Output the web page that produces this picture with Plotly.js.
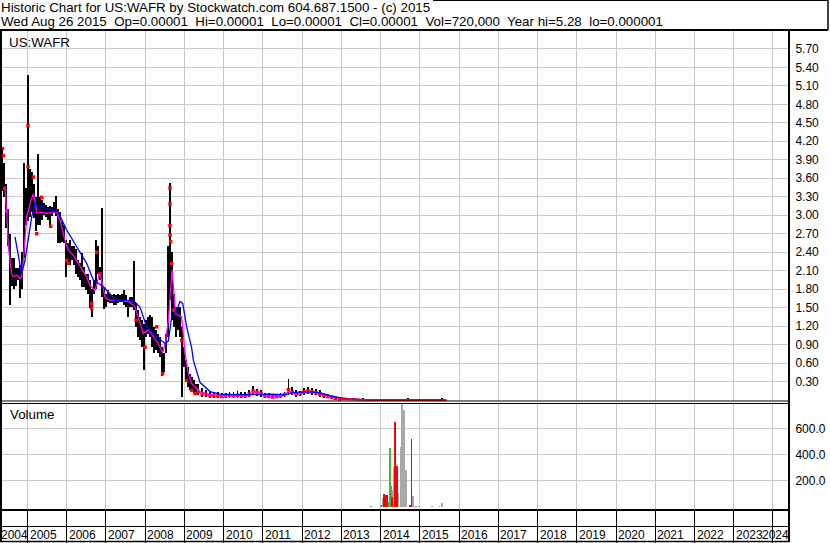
<!DOCTYPE html>
<html><head><meta charset="utf-8">
<script src="https://cdn.plot.ly/plotly-3.0.1.min.js"></script>
<style>html,body{margin:0;padding:0;background:#fff;overflow:hidden}#chart{width:830px;height:543px}</style>
</head><body><div id="chart"></div>
<script>
// ---- price bars (decimal year, high, low) ----
const barT = [2004.359,2004.410,2004.461,2004.512,2004.563,2004.614,2004.665,2004.716,2004.767,2004.818,
2004.869,2004.920,2004.971,2005.022,2005.073,2005.124,2005.175,2005.225,2005.276,2005.327,
2005.378,2005.429,2005.480,2005.531,2005.582,2005.633,2005.684,2005.735,2005.786,2005.837,
2005.888,2005.939,2005.990,2006.041,2006.092,2006.143,2006.194,2006.245,2006.296,2006.347,
2006.398,2006.449,2006.500,2006.551,2006.602,2006.653,2006.704,2006.755,2006.806,2006.857,
2006.908,2006.959,2007.010,2007.060,2007.111,2007.162,2007.213,2007.264,2007.315,2007.366,
2007.417,2007.468,2007.519,2007.570,2007.621,2007.672,2007.723,2007.774,2007.825,2007.876,
2007.927,2007.978,2008.029,2008.080,2008.131,2008.182,2008.233,2008.284,2008.335,2008.386,
2008.437,2008.488,2008.539,2008.590,2008.641,2008.692,2008.743,2008.794,2008.845,2008.895,
2008.946,2008.997,2009.048,2009.099,2009.150,2009.201,2009.252,2009.303,2009.354,
2009.45,2009.55,2009.65,2009.75,2009.85,2009.95,2010.05,2010.15,2010.25,2010.35,
2010.45,2010.55,2010.65,2010.75,2010.85,2010.95,2011.05,2011.15,2011.25,2011.35,
2011.45,2011.55,2011.65,2011.75,2011.85,2011.95,2012.05,2012.15,2012.25,2012.35,
2012.45,2012.55,2012.65,2012.75,2012.85,2012.95,
2013.10,2013.30,2013.55,2013.80,2014.00,2014.30,2014.70,2015.10,2015.56];
const barHi = [4.10,3.85,3.50,3.10,2.70,2.30,2.30,2.15,2.15,2.20,
2.40,3.85,3.45,5.28,3.75,3.70,3.50,3.30,3.99,3.30,
3.25,3.20,3.17,3.13,3.15,3.13,3.22,3.32,3.10,3.05,
2.90,2.85,2.60,2.55,2.60,2.50,2.50,2.45,2.27,2.22,
2.38,2.16,2.05,2.05,1.95,1.80,1.95,2.60,2.50,2.16,
3.11,1.84,1.73,1.78,1.73,1.70,1.73,1.70,1.73,1.70,
1.73,1.79,1.70,1.62,1.67,1.67,2.25,1.57,1.46,1.35,
1.30,1.24,1.30,1.35,1.38,1.35,1.19,1.14,1.08,1.03,
0.86,0.76,1.08,2.50,3.53,2.40,1.73,1.51,1.51,1.51,
1.19,0.86,0.65,0.54,0.43,0.38,0.32,0.27,0.27,
0.19,0.17,0.15,0.14,0.13,0.12,0.12,0.14,0.13,0.15,
0.14,0.13,0.16,0.23,0.18,0.16,0.12,0.11,0.10,0.10,
0.12,0.14,0.34,0.22,0.16,0.15,0.20,0.22,0.20,0.18,
0.16,0.12,0.10,0.08,0.06,0.05,
0.04,0.03,0.04,0.02,0.02,0.015,0.03,0.012,0.03];
const barLo = [3.40,3.30,2.80,2.50,1.55,1.85,1.80,1.85,1.95,1.65,
1.80,2.30,2.85,2.90,2.97,3.05,2.95,2.75,2.85,2.85,
2.92,3.00,2.97,2.92,2.82,2.98,3.03,2.98,2.55,2.55,
2.56,2.55,2.00,2.20,2.20,2.27,2.20,2.05,2.00,1.95,
1.84,1.84,1.78,1.73,1.50,1.35,1.73,1.80,2.05,1.95,
1.68,1.48,1.51,1.59,1.57,1.57,1.54,1.54,1.57,1.59,
1.59,1.54,1.51,1.35,1.51,1.51,1.46,1.19,1.03,0.97,
0.86,0.49,1.03,1.08,1.03,0.86,0.76,0.81,0.76,0.70,
0.40,0.46,0.76,1.03,1.62,1.30,1.19,1.03,1.14,1.03,
0.05,0.54,0.32,0.22,0.16,0.14,0.11,0.11,0.08,
0.05,0.05,0.04,0.04,0.03,0.03,0.03,0.04,0.04,0.04,
0.04,0.03,0.05,0.08,0.07,0.05,0.04,0.03,0.03,0.03,
0.04,0.05,0.09,0.08,0.06,0.07,0.09,0.10,0.09,0.08,
0.06,0.04,0.03,0.02,0.01,0.01,
0.005,0.003,0.002,0.002,0.001,0.001,0.001,0.001,0.001];

// ---- red close marks ----
const redDotT = [2004.359,2004.384,2004.418,2004.469,2005.013,2005.013,2005.149,2005.234,2005.361,2005.591,
2005.998,2006.041,2006.636,2006.636,2006.763,2006.848,2007.765,2007.995,2008.292,2008.445,
2008.632,2008.632,2008.632,2008.632,2008.649,2008.675,2008.717,2008.929,2009.056,2009.184,2009.269,2009.354,
2009.45,2009.55,2009.65,2009.75,2009.85,2009.95,2010.05,2010.15,2010.25,2010.35,
2010.45,2010.55,2010.65,2010.75,2010.85,2010.95,2011.05,2011.15,2011.25,2011.35,
2011.45,2011.55,2011.65,2011.75,2011.85,2011.95,2012.05,2012.15,2012.25,2012.35,
2012.45,2012.55,2012.65,2012.75,2012.85,2012.95];
const redDotV = [4.08,3.97,3.44,3.07,4.45,3.79,3.62,2.70,3.29,2.82,
2.27,2.22,1.57,1.49,2.40,2.05,1.30,0.86,1.19,0.43,
3.44,3.18,2.83,2.68,2.57,2.22,1.46,0.97,0.32,0.16,0.11,0.14,
0.10,0.09,0.08,0.07,0.07,0.06,0.07,0.08,0.07,0.08,
0.07,0.07,0.10,0.15,0.13,0.11,0.07,0.06,0.05,0.06,
0.07,0.09,0.17,0.13,0.11,0.11,0.14,0.15,0.14,0.12,
0.10,0.08,0.06,0.05,0.03,0.02];

// ---- final close line ----
const tailT = [2012.95,2013.20,2013.50,2013.80,2014.10,2014.40,2014.70,2015.00,2015.30,2015.69];
const tailClose = [0.02,0.01,0.006,0.004,0.004,0.003,0.003,0.002,0.002,0.001];

// ---- short moving average (magenta) ----
const shortMaT = [2004.427,2004.469,2004.512,2004.554,2004.596,2004.639,2004.724,2004.809,2004.851,2004.894,
2004.936,2004.979,2005.064,2005.149,2005.191,2005.234,2005.319,2005.488,2005.658,2005.743,
2005.828,2005.956,2006.041,2006.168,2006.296,2006.423,2006.508,2006.593,2006.720,2006.831,
2006.890,2006.975,2007.103,2007.357,2007.612,2007.740,2007.867,2007.952,2008.080,2008.207,
2008.335,2008.445,2008.522,2008.590,2008.649,2008.683,2008.734,2008.768,2008.844,2008.929,
2009.014,2009.099,2009.184,2009.311,2009.396,2009.651,2009.906,2010.671,2010.773,2010.926,
2011.053,2011.436,2011.665,2011.818,2012.073,2012.328,2012.583,2012.838,2013.093,2013.475];
const shortMaV = [3.43,3.08,2.49,2.22,2.05,2.00,2.03,1.97,2.00,2.27,
2.70,2.97,3.19,3.35,3.24,3.03,3.05,3.03,3.05,3.05,
2.92,2.59,2.43,2.35,2.22,2.08,2.00,1.86,1.78,2.05,
1.95,1.67,1.62,1.62,1.59,1.51,1.24,1.08,1.14,1.03,
0.92,0.76,0.97,1.30,1.95,2.12,1.73,1.40,1.38,1.35,
0.76,0.43,0.27,0.19,0.14,0.09,0.07,0.07,0.14,0.12,
0.07,0.06,0.14,0.10,0.12,0.13,0.08,0.04,0.02,0.01];

// ---- long moving average (blue) ----
const longMaT = [2004.681,2004.766,2004.851,2004.936,2005.021,2005.106,2005.191,2005.276,2005.488,2005.786,
2005.998,2006.253,2006.508,2006.678,2006.933,2007.103,2007.230,2007.697,2007.867,2008.037,
2008.292,2008.505,2008.590,2008.675,2008.802,2008.887,2008.955,2009.014,2009.057,2009.184,
2009.226,2009.396,2009.651,2009.906,2010.161,2010.671,2010.926,2011.180,2011.563,2011.741,
2011.945,2012.328,2012.506,2012.710,2012.965,2013.220,2013.602,2013.984,2014.749,2015.641];
const longMaV = [2.65,2.32,2.05,2.27,2.65,2.97,3.19,3.16,3.11,3.05,
2.76,2.49,2.22,1.95,1.84,1.73,1.62,1.62,1.51,1.19,
1.03,0.92,0.96,1.35,1.46,1.60,1.57,1.35,1.19,0.85,
0.65,0.29,0.14,0.10,0.09,0.09,0.10,0.10,0.09,0.12,
0.13,0.13,0.11,0.07,0.04,0.02,0.01,0.01,0.01,0.01];

// ---- volume (thousands) ----
const volGrayT = [2014.068,2014.297,2014.341,2014.451,2014.502,2014.552,2014.603,2014.646,2014.833,2014.978,2015.317,2015.496,2015.572];
const volGray  = [66,130,308,110,461,785,740,282,86,5,5,5,33];
const volGreenT = [2013.747,2014.002,2014.180,2014.231,2014.264,2014.901];
const volGreen  = [8,15,41,453,160,8];
const volRedT = [2014.094,2014.130,2014.155,2014.282,2014.366,2014.409,2014.756,2014.791];
const volRed  = [99,95,92,79,651,315,15,519];

// ---- axis ticks ----
const yearTicks  = [2004,2005,2006,2007,2008,2009,2010,2011,2012,2013,2014,2015,2016,2017,2018,2019,2020,2021,2022,2023,2024];
const yearLabels = ['2004','2005','2006','2007','2008','2009','2010','2011','2012','2013','2014','2015','2016','2017','2018','2019','2020','2021','2022','2023','2024'];
const priceTicks = [0.30,0.60,0.90,1.20,1.50,1.80,2.10,2.40,2.70,3.00,3.30,3.60,3.90,4.20,4.50,4.80,5.10,5.40,5.70];
const priceTickText = ['0.30','0.60','0.90','1.20','1.50','1.80','2.10','2.40','2.70','3.00','3.30','3.60','3.90','4.20','4.50','4.80','5.10','5.40','5.70'];
const volTicks = [200,400,600];
const volTickText = ['200.0','400.0','600.0'];

// ---- geometry helpers ----
const W = 830, H = 543, PL = 2, PR = 789, PT = 31, PB = 510;
const px = x => (x - PL) / (PR - PL);
const py = y => (PB - y) / (PB - PT);
const xRange = [2004.350, 2024.408];
const FONT = 'Arial, "Liberation Sans", sans-serif';

const barSpan = barHi.map((h, i) => h - barLo[i]);

const traces = [
  {type:'bar', x:barT, y:barSpan, base:barLo, width:0.046, marker:{color:'#000000', line:{width:0}}, xaxis:'x', yaxis:'y', hoverinfo:'skip'},
  {type:'scatter', mode:'markers', x:redDotT, y:redDotV, marker:{color:'#ff0000', size:3.5, symbol:'square', line:{width:0}}, xaxis:'x', yaxis:'y', hoverinfo:'skip'},
  {type:'scatter', mode:'lines', x:shortMaT, y:shortMaV, line:{color:'#ff00ff', width:1.3}, xaxis:'x', yaxis:'y', hoverinfo:'skip'},
  {type:'scatter', mode:'lines', x:longMaT, y:longMaV, line:{color:'#0000ff', width:1.3}, xaxis:'x', yaxis:'y', hoverinfo:'skip'},
  {type:'scatter', mode:'lines', x:tailT, y:tailClose, line:{color:'#ff0000', width:2}, xaxis:'x', yaxis:'y', hoverinfo:'skip'},
  {type:'bar', x:volGrayT, y:volGray, width:0.042, marker:{color:'#a8a8a8', line:{width:0}}, xaxis:'x', yaxis:'y2', hoverinfo:'skip'},
  {type:'bar', x:volGreenT, y:volGreen, width:0.042, marker:{color:'#4caf50', line:{width:0}}, xaxis:'x', yaxis:'y2', hoverinfo:'skip'},
  {type:'bar', x:volRedT, y:volRed, width:0.042, marker:{color:'#ff0000', line:{width:0}}, xaxis:'x', yaxis:'y2', hoverinfo:'skip'}
];

const annotations = [
  {text:'Historic Chart for US:WAFR by Stockwatch.com 604.687.1500 - (c) 2015', xref:'paper', yref:'paper', x:px(-1), y:py(7.5), xanchor:'left', yanchor:'middle', showarrow:false, font:{family:FONT, size:13.33, color:'#000'}},
  {text:'Wed Aug 26 2015\u00a0 Op=0.00001\u00a0 Hi=0.00001\u00a0 Lo=0.00001\u00a0 Cl=0.00001\u00a0 Vol=720,000\u00a0 Year hi=5.28\u00a0 lo=0.000001', xref:'paper', yref:'paper', x:px(-1), y:py(21.5), xanchor:'left', yanchor:'middle', showarrow:false, font:{family:FONT, size:13.33, color:'#000'}},
  {text:'US:WAFR', xref:'paper', yref:'paper', x:px(7), y:py(42), xanchor:'left', yanchor:'middle', showarrow:false, font:{family:FONT, size:13.33, color:'#000'}},
  {text:'Volume', xref:'paper', yref:'paper', x:px(7.5), y:py(414), xanchor:'left', yanchor:'middle', showarrow:false, font:{family:FONT, size:13.33, color:'#000'}}
];
yearTicks.forEach((yr, i) => {
  const a = {text:yearLabels[i], xref:'x', yref:'paper', y:py(534.5), yanchor:'middle', showarrow:false, font:{family:FONT, size:12, color:'#000'}};
  if (yr < xRange[0]) { a.x = xRange[0]; a.xanchor = 'left'; a.xshift = -3; }
  else if (yr > xRange[1] - 0.75) { a.x = xRange[1]; a.xanchor = 'right'; a.xshift = 2; }
  else { a.x = yr; a.xanchor = 'left'; a.xshift = 0; }
  annotations.push(a);
});

const L = (x0, y0, x1, y1, w) => ({type:'line', xref:'paper', yref:'paper', x0:px(x0), y0:py(y0), x1:px(x1), y1:py(y1), line:{color:'#000', width:w}, layer:'above'});
const shapes = [
  L(0, 30, 828, 30, 2),
  L(828, 0, 828, 30, 1.5),
  L(433, 0.5, 828, 0.5, 1),
  L(1, 30, 1, 542, 2),
  L(789, 30, 789, 542, 2),
  L(0, 401, 789, 401, 1),
  L(0, 403.5, 789, 403.5, 1),
  L(0, 510, 789, 510, 2),
  L(0, 526.5, 789, 526.5, 1),
  L(0, 541.5, 789, 541.5, 1.5)
];

const layout = {
  width:W, height:H,
  margin:{l:PL, r:W-PR, t:PT, b:H-PB, pad:0},
  paper_bgcolor:'#ffffff', plot_bgcolor:'#ffffff',
  showlegend:false, barmode:'overlay', bargap:0,
  font:{family:FONT, size:12, color:'#000'},
  xaxis:{range:xRange, type:'linear', anchor:'y2', tickvals:yearTicks.slice(1), showticklabels:false,
         ticks:'outside', ticklen:32, tickcolor:'#000', tickwidth:1,
         showgrid:true, gridcolor:'#c8c8c8', gridwidth:1, zeroline:false, showline:false, automargin:false, fixedrange:true},
  yaxis:{domain:[py(401), 1], range:[-0.013, 5.989], side:'right', anchor:'x', tickvals:priceTicks, ticktext:priceTickText,
         ticks:'outside', ticklen:3, tickcolor:'rgba(0,0,0,0)', tickfont:{family:FONT, size:12, color:'#000'},
         showgrid:true, gridcolor:'#c8c8c8', gridwidth:1, zeroline:false, showline:false, automargin:false, fixedrange:true},
  yaxis2:{domain:[0, py(403.5)], range:[-23, 790], side:'right', anchor:'x', tickvals:volTicks, ticktext:volTickText,
         ticks:'outside', ticklen:3, tickcolor:'rgba(0,0,0,0)', tickfont:{family:FONT, size:12, color:'#000'},
         showgrid:true, gridcolor:'#c8c8c8', gridwidth:1, zeroline:false, showline:false, automargin:false, fixedrange:true},
  annotations:annotations,
  shapes:shapes
};

Plotly.newPlot('chart', traces, layout, {staticPlot:true, displayModeBar:false});
</script>
</body></html>
